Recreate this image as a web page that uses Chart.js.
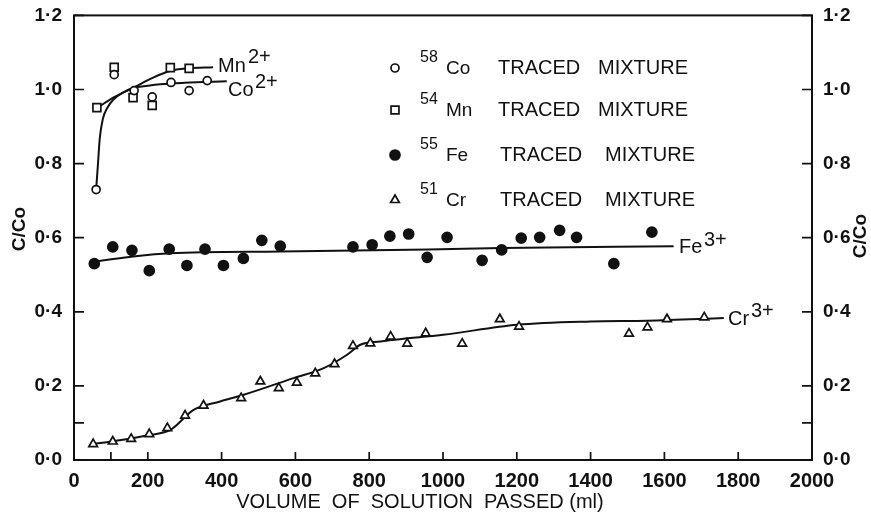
<!DOCTYPE html>
<html>
<head>
<meta charset="utf-8">
<script src="https://cdn.jsdelivr.net/npm/chart.js@4.4.1/dist/chart.umd.min.js"></script>
<style>
html,body{margin:0;padding:0;background:#fff;}
#wrap{width:871px;height:513px;position:relative;}
</style>
</head>
<body>
<div id="wrap"><canvas id="c" width="871" height="513"></canvas></div>
<script>
// ---- data ----
const coX = [60, 109, 163, 212, 263, 312, 361];
const coY = [0.730, 1.040, 0.997, 0.980, 1.019, 0.997, 1.024];
const mnX = [62, 109, 160, 212, 261, 312];
const mnY = [0.951, 1.060, 0.978, 0.957, 1.059, 1.057];
const coFitX = [60, 65, 70, 78, 90, 107, 135, 161, 200, 233, 300, 414];
const coFitY = [0.730, 0.800, 0.870, 0.920, 0.950, 0.973, 0.993, 1.004, 1.010, 1.014, 1.018, 1.022];
const mnFitX = [62, 110, 161, 210, 260, 310, 377];
const mnFitY = [0.950, 0.980, 1.005, 1.030, 1.050, 1.057, 1.060];
const feX = [55, 105, 157, 204, 258, 306, 355, 405, 459, 509, 559, 756, 808, 856, 907, 957, 1011, 1106, 1159, 1212, 1262, 1316, 1362, 1463, 1566];
const feY = [0.530, 0.575, 0.566, 0.511, 0.569, 0.525, 0.569, 0.525, 0.544, 0.593, 0.577, 0.575, 0.581, 0.604, 0.610, 0.547, 0.601, 0.539, 0.567, 0.599, 0.601, 0.620, 0.601, 0.530, 0.615];
const feFitX = [55, 150, 260, 560, 960, 1160, 1625];
const feFitY = [0.536, 0.548, 0.558, 0.563, 0.568, 0.572, 0.577];
const crX = [52, 105, 155, 204, 253, 301, 351, 453, 505, 555, 604, 654, 706, 756, 803, 858, 903, 953, 1052, 1154, 1206, 1504, 1554, 1607, 1708];
const crY = [0.043, 0.050, 0.057, 0.070, 0.086, 0.120, 0.147, 0.167, 0.212, 0.194, 0.209, 0.234, 0.259, 0.308, 0.315, 0.333, 0.314, 0.342, 0.314, 0.380, 0.360, 0.341, 0.358, 0.380, 0.385];
const crFitX = [45, 89, 197, 261, 324, 396, 460, 595, 677, 740, 776, 830, 912, 1000, 1201, 1400, 1554, 1761];
const crFitY = [0.043, 0.048, 0.066, 0.081, 0.135, 0.158, 0.176, 0.221, 0.248, 0.284, 0.311, 0.320, 0.329, 0.338, 0.365, 0.374, 0.376, 0.383];
const xTickValues = [0, 100, 200, 400, 600, 800, 1000, 1200, 1400, 1600, 1800, 2000];
const yTickValues = [0, 0.1, 0.2, 0.4, 0.6, 0.8, 1.0, 1.2];
const legendIsotopes = ['58', '54', '55', '51'];
const legendElements = ['Co', 'Mn', 'Fe', 'Cr'];
const legendText = ['TRACED', 'MIXTURE'];
const seriesLabels = [['Mn', '2+'], ['Co', '2+'], ['Fe', '3+'], ['Cr', '3+']];
const xTitle = 'VOLUME  OF  SOLUTION  PASSED (ml)';
const yTitle = 'C/Co';

const INK = '#111';
const SANS = "'Liberation Sans', Arial, sans-serif";
const pts = (xs, ys) => xs.map((x, i) => ({x: x, y: ys[i]}));

function fitSet(xs, ys) {
  return {type: 'line', data: pts(xs, ys), borderColor: INK, borderWidth: 2, pointRadius: 0,
    cubicInterpolationMode: 'monotone', fill: false, order: 2};
}
function markSet(xs, ys, style, filled, r) {
  return {type: 'scatter', data: pts(xs, ys), pointStyle: style, pointRadius: r, pointHoverRadius: r,
    borderColor: INK, backgroundColor: filled ? INK : '#fff', pointBorderWidth: 1.7, order: 1};
}

const yLabel = v => Math.abs(v - 0.1) < 1e-6 ? '' : v.toFixed(1).replace('.', '·');
const xTickFont = {family: SANS, size: 20, weight: 'bold'};
const yTickFont = {family: SANS, size: 19, weight: 'bold'};

function drawMarker(ctx, style, x, y, r, filled) {
  ctx.save();
  ctx.lineWidth = 1.7; ctx.strokeStyle = INK; ctx.fillStyle = filled ? INK : '#fff';
  ctx.beginPath();
  if (style === 'circle') ctx.arc(x, y, r, 0, Math.PI * 2);
  else if (style === 'rect') { const s = r / Math.SQRT2; ctx.rect(x - s, y - s, 2 * s, 2 * s); }
  else if (style === 'triangle') {
    for (let k = 0; k < 3; k++) {
      const a = k * 2 * Math.PI / 3;
      const px = x + Math.sin(a) * r, py = y - Math.cos(a) * r;
      k ? ctx.lineTo(px, py) : ctx.moveTo(px, py);
    }
    ctx.closePath();
  }
  ctx.fill(); ctx.stroke();
  ctx.restore();
}

const decor = {
  id: 'decor',
  afterDraw(chart) {
    const ctx = chart.ctx, a = chart.chartArea;
    const xs = chart.scales.x, yl = chart.scales.y, yr = chart.scales.y2;
    ctx.save();
    ctx.strokeStyle = INK; ctx.fillStyle = INK;
    // frame
    ctx.lineWidth = 2;
    ctx.strokeRect(a.left, a.top, a.right - a.left, a.bottom - a.top);
    // inward ticks
    ctx.lineWidth = 1.7;
    ctx.beginPath();
    xTickValues.forEach(v => { const p = xs.getPixelForValue(v); ctx.moveTo(p, a.bottom); ctx.lineTo(p, a.bottom - 8); });
    yTickValues.forEach(v => {
      const p = yl.getPixelForValue(v); ctx.moveTo(a.left, p); ctx.lineTo(a.left + 10, p);
      const q = yr.getPixelForValue(v); ctx.moveTo(a.right, q); ctx.lineTo(a.right - 10, q);
    });
    ctx.stroke();
    // axis titles
    ctx.textBaseline = 'middle';
    ctx.textAlign = 'center';
    ctx.font = "20px " + SANS;
    ctx.fillText(xTitle, 420, 502);
    ctx.font = "bold 19px " + SANS;
    [[20, 229], [861, 236]].forEach(([tx, ty]) => {
      ctx.save(); ctx.translate(tx, ty); ctx.rotate(-Math.PI / 2); ctx.fillText(yTitle, 0, 0); ctx.restore();
    });
    // legend
    const styles = [['circle', false, 4], ['rect', false, 5.6], ['circle', true, 5], ['triangle', false, 5]];
    const rows = [68, 110, 155, 200];
    ctx.textAlign = 'left'; ctx.textBaseline = 'alphabetic';
    rows.forEach((ry, i) => {
      drawMarker(ctx, styles[i][0], 395, ry, styles[i][2], styles[i][1]);
      ctx.font = "16px " + SANS;
      ctx.fillText(legendIsotopes[i], 420, ry - 6);
      ctx.font = "19px " + SANS;
      ctx.fillText(legendElements[i], 446, ry + 6);
      ctx.font = "20px " + SANS;
      ctx.fillText(legendText[0], i < 2 ? 498 : 500, ry + 6);
      ctx.fillText(legendText[1], i < 2 ? 598 : 605, ry + 6);
    });
    // series labels
    const lab = [[218, 72, 248, 63], [228, 96, 255, 88], [679, 253, 704, 246], [728, 325, 751, 317]];
    lab.forEach((p, i) => {
      ctx.font = "20px " + SANS;
      ctx.fillText(seriesLabels[i][0], p[0], p[1]);
      ctx.fillText(seriesLabels[i][1], p[2], p[3]);
    });
    ctx.restore();
  }
};

new Chart(document.getElementById('c'), {
  data: {
    datasets: [
      fitSet(mnFitX, mnFitY), fitSet(coFitX, coFitY), fitSet(feFitX, feFitY), fitSet(crFitX, crFitY),
      markSet(coX, coY, 'circle', false, 4),
      markSet(mnX, mnY, 'rect', false, 5.6),
      markSet(feX, feY, 'circle', true, 5),
      markSet(crX, crY, 'triangle', false, 5)
    ]
  },
  options: {
    responsive: false, animation: false, devicePixelRatio: 1,
    layout: {padding: {top: 15, left: 0, right: 0, bottom: 0}},
    plugins: {legend: {display: false}, tooltip: {enabled: false}},
    scales: {
      x: {
        type: 'linear', min: 0, max: 2000, position: 'bottom',
        afterBuildTicks: s => { s.ticks = xTickValues.map(v => ({value: v})); },
        afterFit: s => { s.height = 53; },
        grid: {display: false}, border: {display: false},
        ticks: {autoSkip: false, maxRotation: 0, padding: 1, color: INK, font: xTickFont,
          callback: v => v === 100 ? '' : String(v)}
      },
      y: {
        type: 'linear', min: 0, max: 1.2, position: 'left',
        afterBuildTicks: s => { s.ticks = yTickValues.map(v => ({value: v})); },
        afterFit: s => { s.width = 74; },
        grid: {display: false}, border: {display: false},
        ticks: {padding: 4, color: INK, font: yTickFont, callback: yLabel}
      },
      y2: {
        type: 'linear', min: 0, max: 1.2, position: 'right',
        afterBuildTicks: s => { s.ticks = yTickValues.map(v => ({value: v})); },
        afterFit: s => { s.width = 59; },
        grid: {display: false}, border: {display: false},
        ticks: {padding: 3, color: INK, font: yTickFont, callback: yLabel}
      }
    }
  },
  plugins: [decor]
});
</script>
</body>
</html>
